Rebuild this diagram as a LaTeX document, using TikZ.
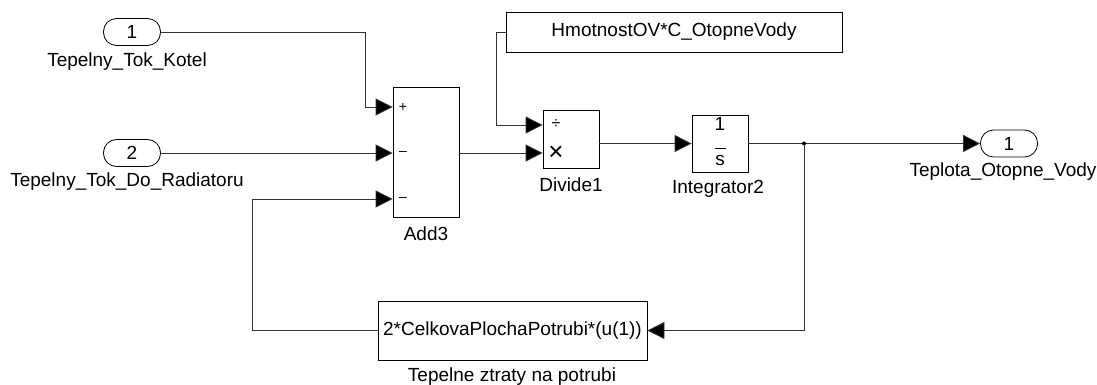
\documentclass[tikz,border=0pt]{standalone}
\usepackage{fontspec}
\setmainfont{Liberation Sans}
\usetikzlibrary{arrows.meta,positioning}

\begin{document}
\begin{tikzpicture}[x=1pt,y=-1pt,
    block/.style={draw, line width=0.8pt, inner sep=0pt},
    port/.style={draw, line width=0.8pt, rounded corners=13pt, minimum width=57pt, minimum height=27pt, inner sep=0pt},
    wire/.style={draw=black!80, line width=0.8pt},
    sig/.style={wire, -{Triangle[length=17pt,width=17pt,fill=black]}},
    sign/.style={font=\fontsize{14}{14}\selectfont, inner sep=0pt}]
    \useasboundingbox (0,0) rectangle (1097,385);
    \fontsize{19}{22}\selectfont

    % Inports
    \node[port] (in1) at (132,32) {1};
    \node at (127,62) {Tepelny\_Tok\_Kotel};
    \node[port] (in2) at (132,153) {2};
    \node at (127,182) {Tepelny\_Tok\_Do\_Radiatoru};

    % Sum block
    \node[block, minimum width=66pt, minimum height=130pt] (add) at (426,152.5) {};
    \node at (426,234) {Add3};
    \coordinate (add-p1) at (add.west |- 0,107);
    \coordinate (add-p2) at (add.west |- 0,153);
    \coordinate (add-p3) at (add.west |- 0,199);
    \node[sign] at (403,107) {+};
    \node[sign] at (403,153) {--};
    \node[sign] at (403,199) {--};

    % Divide block
    \node[block, minimum width=56pt, minimum height=58pt] (div) at (571,139) {};
    \node at (571,185) {Divide1};
    \coordinate (div-p1) at (div.west |- 0,125);
    \coordinate (div-p2) at (div.west |- 0,153);
    \node[sign, font=\fontsize{16}{16}\selectfont] at (556,124) {÷};
    \node[sign, font=\fontsize{26}{26}\selectfont] at (556,153) {×};

    % Constant
    \node[block, minimum width=336pt, minimum height=40pt] (const) at (674,32) {HmotnostOV*C\_OtopneVody};

    % Integrator
    \node[block, minimum width=56pt, minimum height=57pt] (int) at (720,143.5)
        {\begin{tabular}{@{}c@{}}1\\[-4pt]\rule{11pt}{0.6pt}\\[-5pt]s\end{tabular}};
    \node at (718,189) {Integrator2};

    % Outport
    \node[port] (out1) at (1009,143.5) {1};
    \node at (1003,172) {Teplota\_Otopne\_Vody};

    % Loss block
    \node[block, minimum width=269pt, minimum height=59pt] (loss) at (512.5,330.5) {2*CelkovaPlochaPotrubi*(u(1))};
    \node at (512,377) {Tepelne ztraty na potrubi};

    % Wires
    \draw[sig] (in1.east) -| (365,107) -- (add-p1);
    \draw[sig] (in2.east) -- (add-p2);
    \draw[sig] (add.east |- add-p2) -- (div-p2);
    \draw[sig] (const.west) -- (496,32) |- (div-p1);
    \draw[sig] (div.east |- int.west) -- (int.west);
    \draw[sig] (int.east) -- (out1.west);
    \coordinate (branch) at (804,143.5);
    \fill (branch) circle (2pt);
    \draw[sig] (branch) |- (loss.east);
    \draw[sig] (loss.west) -| (252,199) -- (add-p3);
\end{tikzpicture}
\end{document}
